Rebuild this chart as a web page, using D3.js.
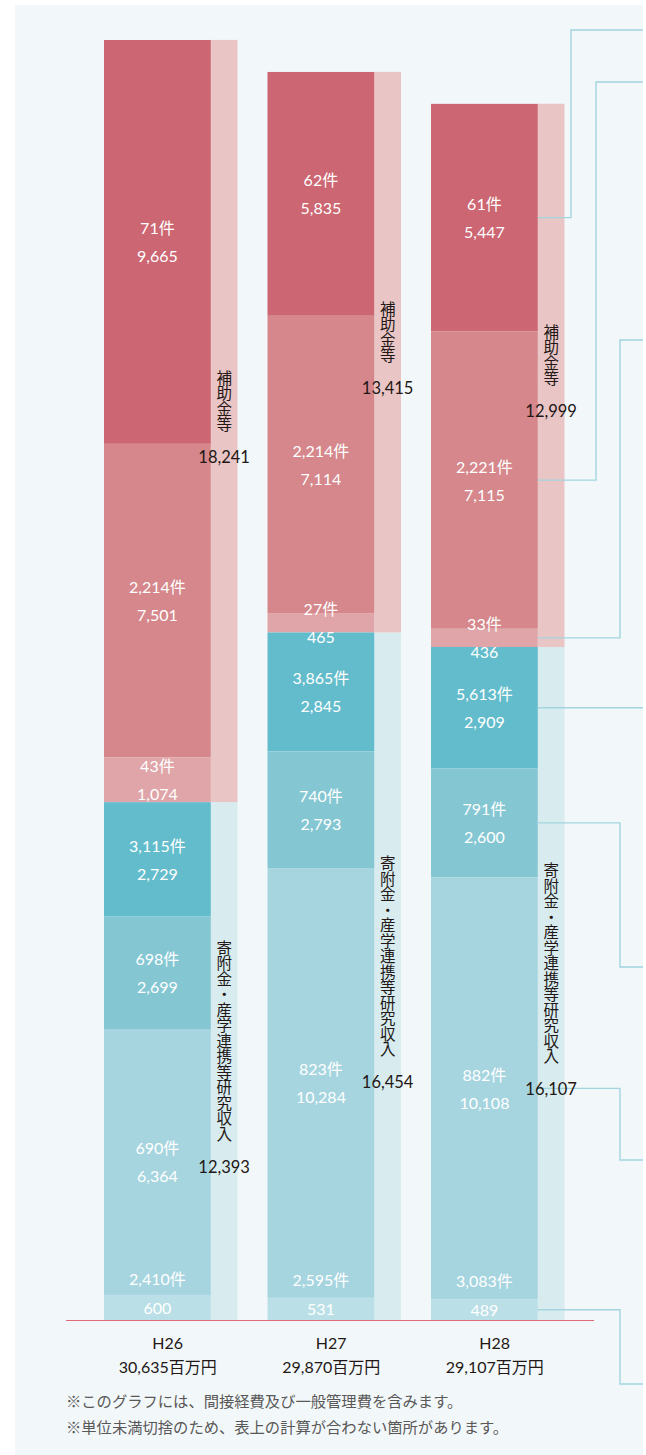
<!DOCTYPE html>
<html>
<head>
<meta charset="utf-8">
<script src="https://cdn.jsdelivr.net/npm/d3@7"></script>
<style>
  html, body { margin: 0; padding: 0; background: #fff; }
  svg { display: block; }
</style>
</head>
<body>
<div id="chart"></div>
<script>
// fiscal years
const years = ["H26", "H27", "H28"];
const totalLabels = ["30,635百万円", "29,870百万円", "29,107百万円"];

// two groups, each with its own side bar
const groupNames = ["補助金等", "寄附金・産学連携等研究収入"];
const groupTotals = [
    [18241, 13415, 12999],
    [12393, 16454, 16107]
];

// segments, top to bottom (millions of yen), one value per year
const segValues = [
    [9665, 5835, 5447],
    [7501, 7114, 7115],
    [1074, 465, 436],
    [2729, 2845, 2909],
    [2699, 2793, 2600],
    [6364, 10284, 10108],
    [600, 531, 489]
];
// number of cases per segment
const segCounts = [
    ["71", "62", "61"],
    ["2,214", "2,214", "2,221"],
    ["43", "27", "33"],
    ["3,115", "3,865", "5,613"],
    ["698", "740", "791"],
    ["690", "823", "882"],
    ["2,410", "2,595", "3,083"]
];

const footnotes = [
    "※このグラフには、間接経費及び一般管理費を含みます。",
    "※単位未満切捨のため、表上の計算が合わない箇所があります。"
];

const segColors = ["#cc6672", "#d5878b", "#dfa5a8", "#62bccb", "#84c7d3", "#a6d5df", "#bbdfe6"];
const sideColors = ["#e9c5c6", "#d8ecf0"];

const width = 646, height = 1455;
const baseY = 1320;
const fmt = d3.format(",");
const latin = "Lato, 'Noto Sans CJK JP', sans-serif";
const cjk = "'Noto Sans CJK JP', sans-serif";

const svg = d3.select("#chart").append("svg")
    .attr("width", width)
    .attr("height", height)
    .style("font-family", latin);

svg.append("rect")
    .attr("x", 15).attr("y", 5)
    .attr("width", 628).attr("height", height - 5)
    .attr("fill", "#f2f7fa");

// build rows for the stack
const keys = segValues.map((d, i) => "s" + i);
const rows = years.map((yr, j) => {
    const r = { year: yr };
    segValues.forEach((vals, i) => r["s" + i] = vals[j]);
    return r;
});
// bottom segment first so the first segment ends on top
const series = d3.stack().keys(keys.slice().reverse())(rows);
const stackOf = {};
series.forEach(s => stackOf[s.key] = s);

const x = d3.scaleBand()
    .domain(years)
    .range([104, 564.5])
    .paddingInner(0.1835);
const mainW = x.bandwidth() * 0.8;
const sideW = x.bandwidth() - mainW;

const y = d3.scaleLinear()
    .domain([0, d3.max(rows, r => d3.sum(keys, k => r[k]))])
    .range([baseY, 40]);

// side bars (group totals)
const sideG = svg.append("g");
years.forEach((yr, j) => {
    let acc = 0;
    // blue group is at the bottom, red group above it
    [1, 0].forEach(g => {
        const v = groupTotals[g][j];
        const top = y(acc + v), bot = y(acc);
        sideG.append("rect")
            .attr("x", x(yr) + mainW)
            .attr("y", top)
            .attr("width", sideW)
            .attr("height", bot - top)
            .attr("fill", sideColors[g]);
        acc += v;
    });
});

// main stacked segments
const segG = svg.append("g");
keys.forEach((k, i) => {
    segG.selectAll(null)
        .data(stackOf[k])
        .join("rect")
        .attr("x", d => x(d.data.year))
        .attr("y", d => y(d[1]))
        .attr("width", mainW)
        .attr("height", d => y(d[0]) - y(d[1]))
        .attr("fill", segColors[i]);
});

// connector lines from the last year toward the legend at the right
const last = years.length - 1;
const lineX0 = x(years[last]) + mainW;
const elbowX = [571, 596, 620, null, 620, 620, 620];
const legendY = [30, 82, 340, null, 967, 1160, 1384];
const connG = svg.append("g")
    .attr("fill", "none")
    .attr("stroke", "#a3d5de")
    .attr("stroke-width", 1.4);
keys.forEach((k, i) => {
    const d = stackOf[k][last];
    const my = (y(d[0]) + y(d[1])) / 2;
    const pts = elbowX[i] === null
        ? [[lineX0, my], [643, my]]
        : [[lineX0, my], [elbowX[i], my], [elbowX[i], legendY[i]], [643, legendY[i]]];
    connG.append("path").attr("d", d3.line()(pts));
});

// labels inside segments
const labG = svg.append("g")
    .attr("fill", "#fff")
    .attr("font-size", 16)
    .attr("text-anchor", "middle")
    .attr("dominant-baseline", "central");
keys.forEach((k, i) => {
    stackOf[k].forEach((d, j) => {
        const cx = x(d.data.year) + mainW / 2;
        const my = (y(d[0]) + y(d[1])) / 2;
        const isBottom = i === keys.length - 1;
        const cy = isBottom ? my - 29 : my - 14;
        const vy = isBottom ? my : my + 14;
        labG.append("text").attr("x", cx).attr("y", cy).text(segCounts[i][j] + "件");
        labG.append("text").attr("x", cx).attr("y", vy).text(fmt(segValues[i][j]));
    });
});

// vertical group names with totals on the side bars
const sideLab = svg.append("g").attr("fill", "#231815");
const em = 15.5;
years.forEach((yr, j) => {
    let acc = 0;
    const cx = x(yr) + mainW + sideW / 2;
    [1, 0].forEach(g => {
        const v = groupTotals[g][j];
        const mid = (y(acc + v) + y(acc)) / 2;
        const name = groupNames[g];
        const len = name.length * em;
        const top = mid - 20 - len / 2;
        sideLab.append("text")
            .attr("x", cx)
            .attr("y", top)
            .attr("font-size", em)
            .style("font-family", cjk)
            .style("writing-mode", "vertical-rl")
            .style("text-orientation", "upright")
            .text(name);
        sideLab.append("text")
            .attr("x", cx)
            .attr("y", top + len + 25)
            .attr("font-size", 16.5)
            .attr("text-anchor", "middle")
            .attr("dominant-baseline", "central")
            .text(fmt(v));
        acc += v;
    });
});

// baseline
svg.append("line")
    .attr("x1", 66).attr("x2", 594)
    .attr("y1", baseY + 0.5).attr("y2", baseY + 0.5)
    .attr("stroke", "#e06a78")
    .attr("stroke-width", 1.2);

// year and total under each group
const xl = svg.append("g")
    .attr("fill", "#231815")
    .attr("font-size", 16)
    .attr("text-anchor", "middle")
    .attr("dominant-baseline", "central");
years.forEach((yr, j) => {
    const cx = x(yr) + x.bandwidth() / 2 - 3;
    xl.append("text").attr("x", cx).attr("y", 1342).text(yr);
    xl.append("text").attr("x", cx).attr("y", 1366).text(totalLabels[j]);
});

// notes
svg.append("g")
    .attr("fill", "#595757")
    .attr("font-size", 15.3)
    .style("font-family", cjk)
    .attr("dominant-baseline", "central")
    .selectAll("text")
    .data(footnotes)
    .join("text")
    .attr("x", 66)
    .attr("y", (d, i) => 1400 + i * 26)
    .text(d => d);
</script>
</body>
</html>
